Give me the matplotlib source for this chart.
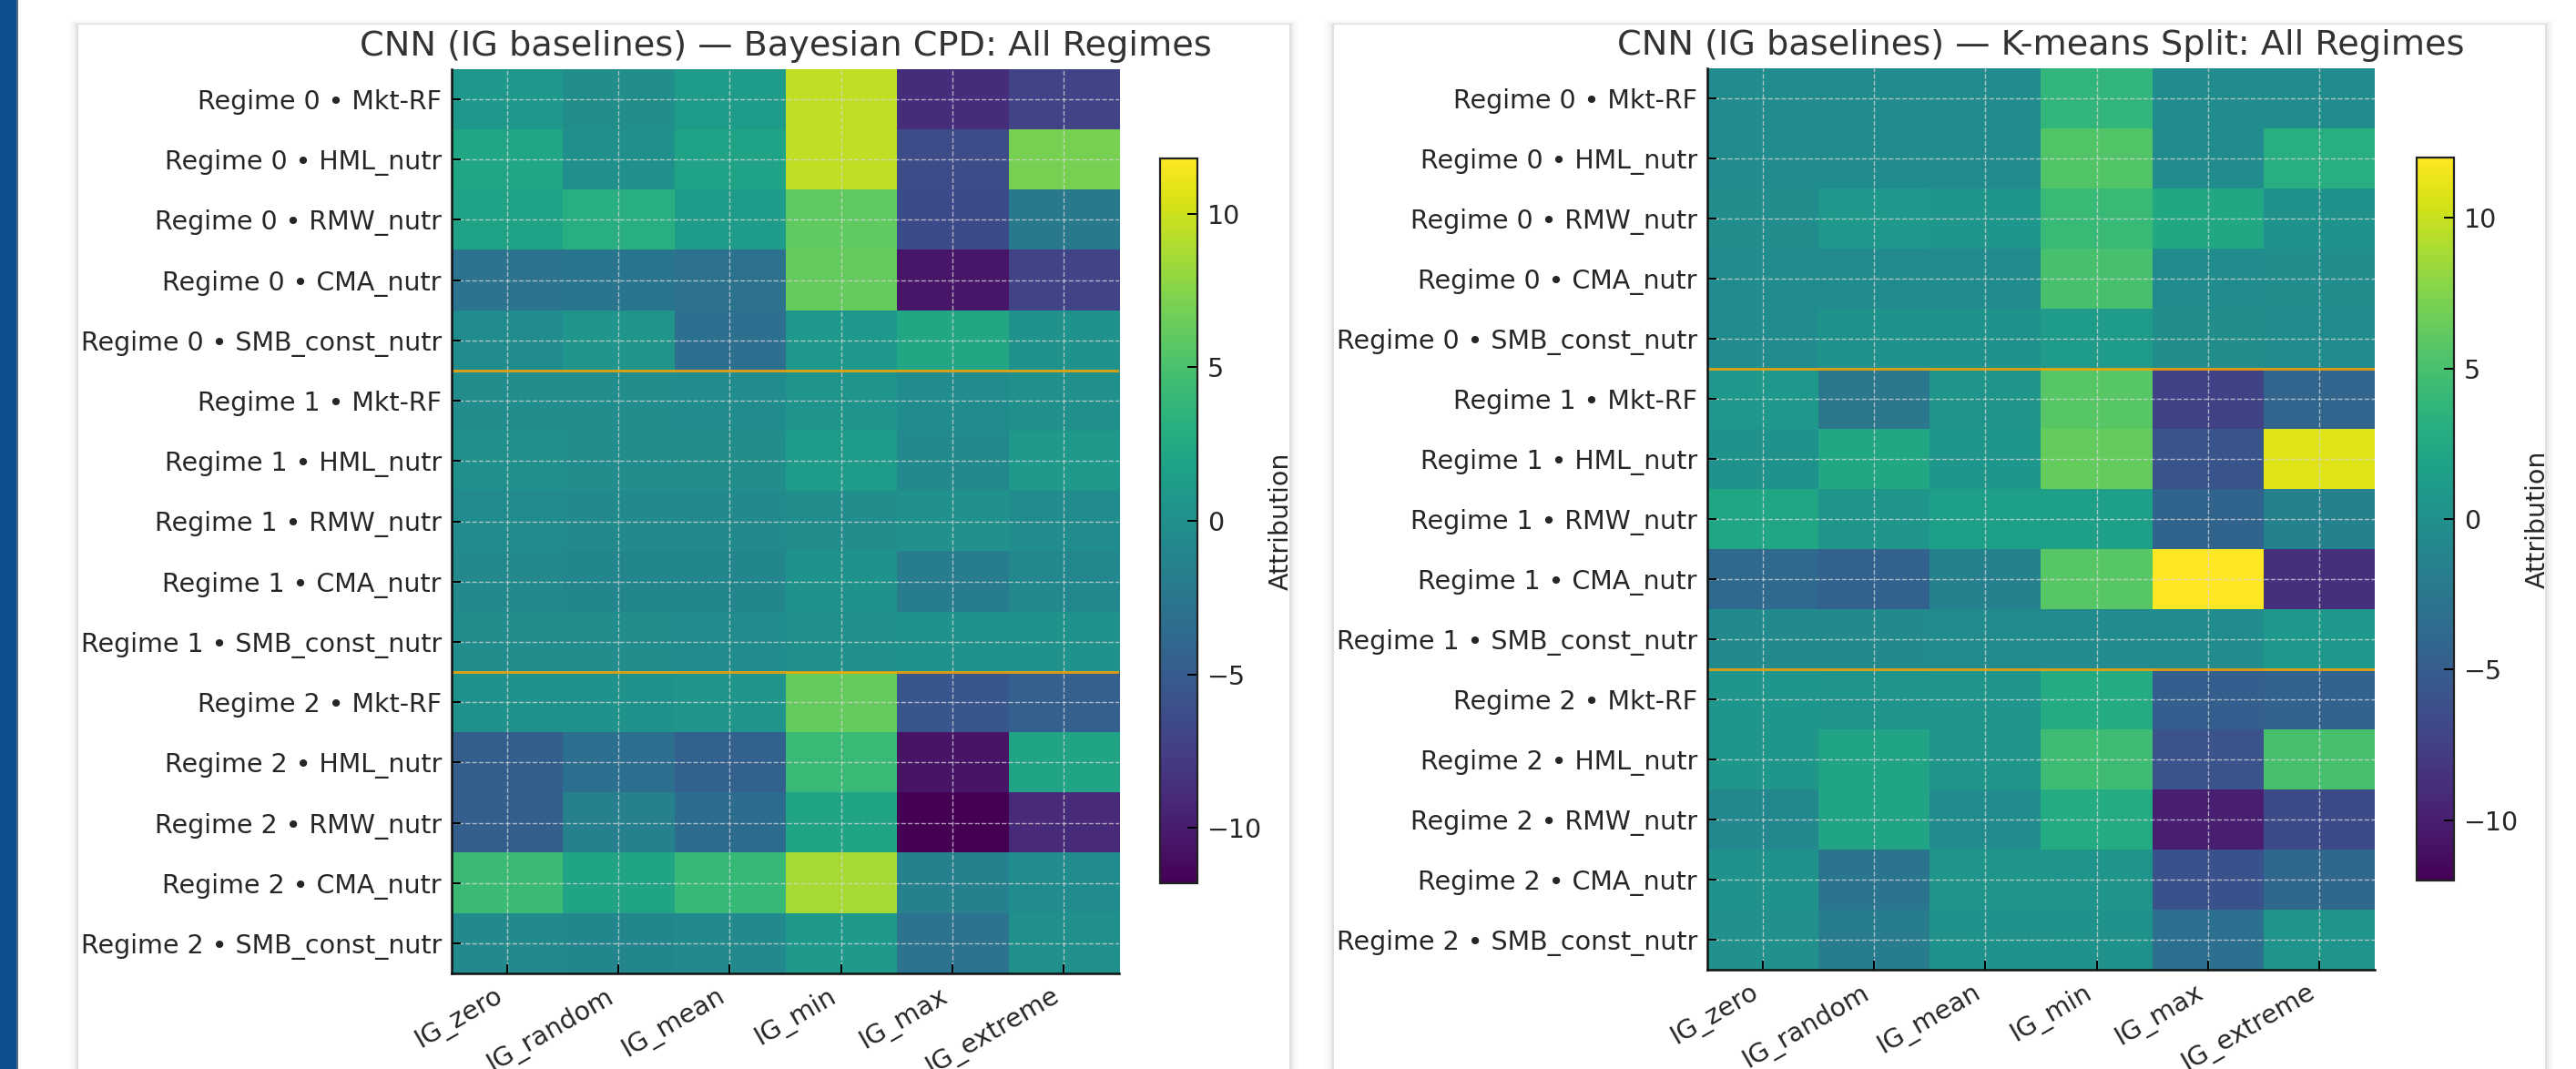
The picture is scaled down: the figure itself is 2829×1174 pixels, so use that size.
import numpy as np
import matplotlib
matplotlib.use("Agg")
import matplotlib.pyplot as plt
from matplotlib.patches import Rectangle

# ---------------- data ----------------
regimes = ["Regime 0", "Regime 1", "Regime 2"]
factors = ["Mkt-RF", "HML_nutr", "RMW_nutr", "CMA_nutr", "SMB_const_nutr"]
baselines = ["IG_zero", "IG_random", "IG_mean", "IG_min", "IG_max", "IG_extreme"]

title_bayes = "CNN (IG baselines) — Bayesian CPD: All Regimes"
title_kmeans = "CNN (IG baselines) — K-means Split: All Regimes"
cbar_label = "Attribution"

bayes_values = [
    [0.8, -0.1, 1.2, 9.5, -8.7, -7.0],
    [2.2, 0.0, 1.8, 9.5, -6.4, 7.0],
    [1.8, 3.0, 1.2, 6.0, -6.5, -2.3],
    [-2.8, -2.6, -3.0, 6.2, -10.4, -7.0],
    [-0.3, 0.5, -3.2, 0.8, 2.3, 0.3],
    [-0.2, -0.2, -0.3, 0.4, -0.3, 0.0],
    [0.0, -0.2, -0.1, 1.2, -0.5, 0.9],
    [-0.4, -0.5, -0.5, -0.2, 0.1, -0.3],
    [-0.7, -1.0, -1.0, 0.3, -1.8, -0.8],
    [-0.2, -0.2, -0.3, 0.0, 0.2, 0.2],
    [0.3, 0.3, 0.5, 6.2, -5.5, -4.6],
    [-4.7, -3.2, -4.5, 4.2, -10.6, 2.0],
    [-4.7, -1.5, -3.5, 2.0, -11.8, -9.0],
    [4.3, 2.0, 4.0, 8.7, -1.5, -0.3],
    [-0.5, -1.0, -0.5, 1.0, -2.8, 0.0],
]

kmeans_values = [
    [-0.3, -0.3, -0.3, 3.8, -0.3, -0.3],
    [-0.3, -0.3, -0.4, 5.5, -0.3, 3.1],
    [-0.2, 0.8, 0.6, 4.2, 2.4, 0.2],
    [-0.3, -0.4, -0.4, 5.0, -0.3, -0.2],
    [-0.3, 0.3, 0.2, 1.2, -0.1, -0.3],
    [0.8, -2.5, 0.4, 5.8, -7.3, -4.2],
    [0.3, 2.4, 0.6, 6.3, -5.8, 10.8],
    [2.2, 0.5, 1.5, 1.5, -4.3, -1.5],
    [-3.8, -4.5, -1.5, 5.8, 12.0, -8.7],
    [-0.5, -0.5, -0.4, -0.4, -0.3, 0.8],
    [0.6, 0.4, 0.5, 2.8, -4.8, -4.5],
    [0.7, 2.0, 0.5, 4.5, -5.9, 5.0],
    [-0.8, 2.0, -0.3, 2.8, -10.0, -6.6],
    [0.2, -2.8, 0.4, 0.4, -6.0, -4.0],
    [0.1, -1.8, 0.2, 0.3, -3.2, 0.4],
]

row_labels = [f"{r} • {f}" for r in regimes for f in factors]

# ---------------- layout ----------------
W, H = 2829, 1174
fig = plt.figure(figsize=(W / 100, H / 100), dpi=100)
fig.patch.set_facecolor("white")


def fx(px):
    return px / W


def fy(py):
    return 1 - py / H


def add_rect(x0, y0, x1, y1, **kw):
    r = Rectangle((fx(x0), fy(y1)), fx(x1) - fx(x0), fy(y0) - fy(y1),
                  transform=fig.transFigure, **kw)
    fig.add_artist(r)


# blue side strip
add_rect(0, 0, 18, H, facecolor="#0d4f8f", edgecolor="none", zorder=-5)
add_rect(18, 0, 20, H, facecolor="#5a6b80", edgecolor="none", zorder=-5)

# panels with soft shadow
for (px0, px1) in [(86, 1416), (1465, 2795)]:
    for k, a in [(10, 0.015), (7, 0.025), (4, 0.04), (2, 0.05)]:
        add_rect(px0 - k, 27 - k * 0.5, px1 + k, H + 20,
                 facecolor="black", alpha=a, edgecolor="none", zorder=-4)
    add_rect(px0, 27, px1, H + 20, facecolor="white", edgecolor="none", zorder=-3)

TXT = "#262626"
TICK_FS = 20.5
TITLE_FS = 27.5


def draw_panel(values, title, ax_box, cb_box):
    data = np.array(values, dtype=float)
    vmax = np.abs(data).max()
    x0, y0, x1, y1 = ax_box
    ax = fig.add_axes([fx(x0), fy(y1), fx(x1) - fx(x0), fy(y0) - fy(y1)])
    im = ax.imshow(data, cmap="viridis", vmin=-vmax, vmax=vmax,
                   aspect="auto", interpolation="nearest")
    ax.set_xticks(range(len(baselines)))
    ax.set_xticklabels(baselines, rotation=30, ha="right", fontsize=TICK_FS, color=TXT)
    ax.set_yticks(range(len(row_labels)))
    ax.set_yticklabels(row_labels, fontsize=TICK_FS, color=TXT)
    ax.tick_params(direction="in", length=7, width=1.4, pad=8, colors="black",
                   labelcolor=TXT)
    for s in ["top", "right"]:
        ax.spines[s].set_visible(False)
    for s in ["left", "bottom"]:
        ax.spines[s].set_linewidth(1.8)
        ax.spines[s].set_color("#111111")
    ax.grid(True, linestyle="--", linewidth=1.0, color="#d8d8d8", alpha=0.75)
    for b in [len(factors) - 0.5, 2 * len(factors) - 0.5]:
        ax.axhline(b, color="orange", alpha=0.8, linewidth=2.2)
    ax.set_title(title, fontsize=TITLE_FS, color="#333333", pad=11)

    c0, cy0, c1, cy1 = cb_box
    cax = fig.add_axes([fx(c0), fy(cy1), fx(c1) - fx(c0), fy(cy0) - fy(cy1)])
    cb = fig.colorbar(im, cax=cax)
    cb.outline.set_linewidth(1.6)
    cb.outline.set_edgecolor("#222222")
    cax.tick_params(direction="in", length=8, width=1.4, pad=8,
                    labelsize=TICK_FS, labelcolor=TXT)
    cb.set_label(cbar_label, fontsize=TICK_FS, color=TXT, labelpad=5)


draw_panel(bayes_values, title_bayes, (496, 76, 1229, 1069), (1274, 174, 1315, 970))
draw_panel(kmeans_values, title_kmeans, (1875, 75, 2608, 1065), (2654, 173, 2695, 967))

fig.savefig("out.png", dpi=100, facecolor="white")
